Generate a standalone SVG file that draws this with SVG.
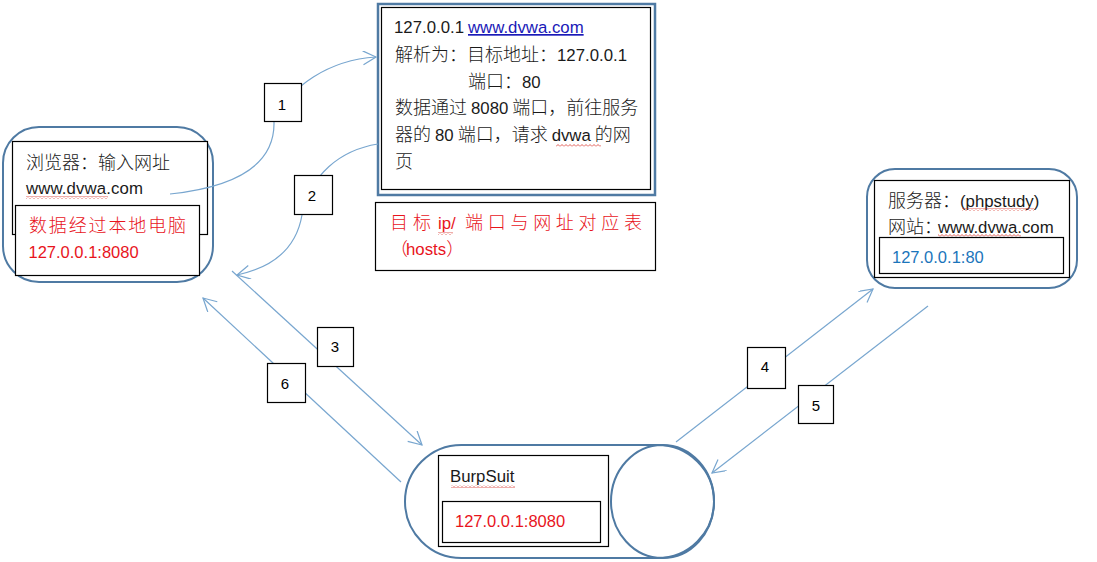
<svg xmlns="http://www.w3.org/2000/svg" width="1097" height="562" viewBox="0 0 1097 562">
<style>
text{font-family:"Liberation Sans","Noto Sans CJK SC",sans-serif;font-size:16.800px;fill:#1a1a1a}
.cjk{font-family:"Noto Sans CJK SC","Liberation Sans",sans-serif;font-size:18px;font-weight:300}
.l{font-family:"Liberation Sans",sans-serif;font-size:16.800px;font-weight:400}
.r{fill:#e8141c}
.ip{font-size:16.500px}
.b{fill:none;stroke:#000;stroke-width:1.2}
.w{fill:#fff;stroke:#000;stroke-width:1.2}
.s{fill:none;stroke:#4f7aa3;stroke-width:2}
.c{fill:none;stroke:#78a6cf;stroke-width:1.2;marker-end:url(#a)}
.n{font-size:15px;text-anchor:middle;fill:#000}
.sq{fill:url(#z);stroke:none}
</style>
<defs>
<marker id="a" markerUnits="userSpaceOnUse" markerWidth="20" markerHeight="20" refX="14" refY="7" orient="auto"><path d="M1 0L14 7L1 14" fill="none" stroke="#78a6cf" stroke-width="1.2"/></marker>
<pattern id="z" patternUnits="userSpaceOnUse" width="4" height="3"><path d="M0 2.500L2 .5L4 2.500" fill="none" stroke="#d8342c" stroke-width=".8"/></pattern>
</defs>
<rect width="1097" height="562" fill="#fff"/>
<g id="browser">
<rect class="s" x="3" y="127" width="210" height="155" rx="36"/>
<rect class="w" x="12.500" y="141.500" width="195" height="93"/>
<text class="cjk" x="26" y="169">浏览器：输入网址</text>
<text x="26" y="194" textLength="117">www.dvwa.com</text>
<rect class="sq" x="26" y="196" width="82" height="3"/>
<rect class="w" x="15.500" y="205.500" width="184" height="70"/>
<text class="cjk r" x="29" y="232" textLength="157">数据经过本地电脑</text>
<text class="r ip" x="28.500" y="258">127.0.0.1:8080</text>
</g>
<g id="hosts">
<rect x="378" y="4" width="277" height="191" fill="#fff" stroke="#4f7aa3" stroke-width="2.500"/>
<rect class="b" x="381.500" y="7.500" width="269" height="182"/>
<text x="394" y="33">127.0.0.1 <tspan x="468" fill="#1a1ab8" text-decoration="underline">www.dvwa.com</tspan></text>
<text class="cjk" x="395" y="61">解析为：目标地址：<tspan class="l">127.0.0.1</tspan></text>
<text class="cjk" x="468" y="88">端口：<tspan class="l">80</tspan></text>
<text class="cjk" x="395" y="114">数据通过 <tspan class="l">8080</tspan> 端口，前往服务</text>
<text class="cjk" x="395" y="141">器的 <tspan class="l">80</tspan> 端口，请求 <tspan class="l">dvwa</tspan> 的网</text>
<text class="cjk" x="395" y="168">页</text>
<rect class="sq" x="556" y="144" width="45" height="3"/>
</g>
<g id="table">
<rect class="b" x="375.500" y="202.500" width="280" height="68"/>
<text class="cjk r" x="390" y="229" textLength="41">目标</text>
<text class="r" x="438" y="229">ip/</text>
<text class="cjk r" x="465" y="229" textLength="177">端口与网址对应表</text>
<text class="cjk r" x="390" y="255">（<tspan class="l r" x="406">hosts</tspan>）</text>
<rect class="sq" x="438" y="232" width="15" height="3"/>
</g>
<g id="server">
<rect class="s" x="867" y="169" width="210" height="119" rx="28"/>
<rect class="b" x="874.500" y="180.500" width="195" height="97"/>
<text class="cjk" x="888" y="207">服务器：<tspan class="l" x="960">(phpstudy)</tspan></text>
<text class="cjk" x="888" y="233">网站：<tspan class="l" x="938">www.dvwa.com</tspan></text>
<rect class="sq" x="962" y="208" width="72" height="3"/>
<rect class="sq" x="938" y="234" width="83" height="3"/>
<rect class="w" x="879.500" y="237.500" width="184" height="36"/>
<text class="ip" x="892" y="263" style="fill:#1b75bb">127.0.0.1:80</text>
</g>
<g id="burpsuit">
<path class="s" d="M461.500 445H657.500A56.500 56.500 0 0 1 657.500 558H461.500A56.500 56.500 0 0 1 461.500 445Z"/>
<ellipse class="s" cx="662.500" cy="501.500" rx="51.500" ry="56.500"/>
<rect class="b" x="438.500" y="455.500" width="170" height="91"/>
<text x="450" y="482">BurpSuit</text>
<rect class="sq" x="451" y="485" width="64" height="3"/>
<rect class="b" x="442.500" y="501.500" width="158" height="41"/>
<text class="r ip" x="455" y="527">127.0.0.1:8080</text>
</g>
<g id="connectors">
<path class="c" d="M170 194C235 187 275 165 274 122C290 85 330 60 376 57"/>
<path class="c" d="M378 144C340 150 310 175 302 215C296 250 270 268 237 275"/>
<path class="c" d="M232 271L422 445"/>
<path class="c" d="M401 482L203 298"/>
<path class="c" d="M676 442L873 289"/>
<path class="c" d="M928 306L712 473"/>
</g>
<g id="label-1"><rect class="w" x="264.500" y="83.500" width="37" height="38"/><text class="n" x="282" y="110">1</text></g>
<g id="label-2"><rect class="w" x="294.500" y="175.500" width="38" height="39"/><text class="n" x="312" y="201">2</text></g>
<g id="label-3"><rect class="w" x="317.500" y="327.500" width="36" height="39"/><text class="n" x="335" y="352">3</text></g>
<g id="label-6"><rect class="w" x="267.500" y="363.500" width="38" height="39"/><text class="n" x="285" y="389">6</text></g>
<g id="label-4"><rect class="w" x="747.500" y="347.500" width="38" height="41"/><text class="n" x="765" y="372">4</text></g>
<g id="label-5"><rect class="w" x="798.500" y="385.500" width="35" height="38"/><text class="n" x="816" y="411">5</text></g>
</svg>
